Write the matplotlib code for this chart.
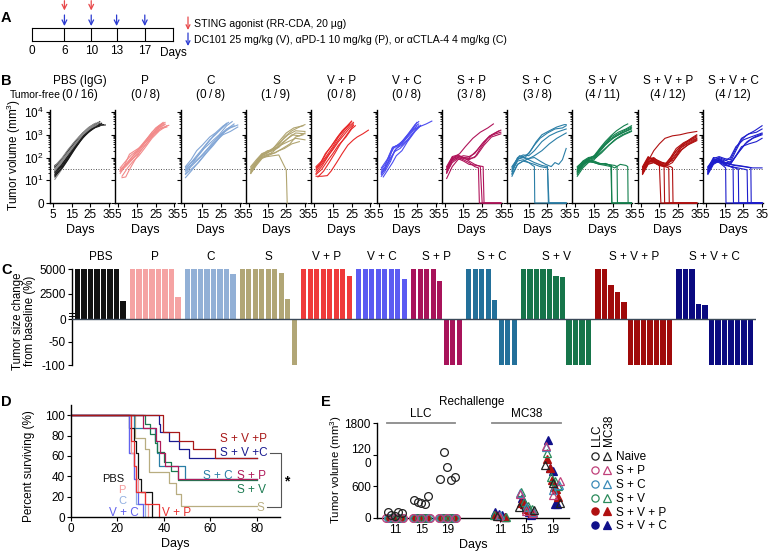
import numpy as np
import matplotlib
matplotlib.use('Agg')
import matplotlib.pyplot as plt
from matplotlib import font_manager as fm
from matplotlib.legend_handler import HandlerTuple
from matplotlib.lines import Line2D


def pick_font(names):
    # first installed family from the list
    for n in names:
        try:
            fm.findfont(fm.FontProperties(family=n), fallback_to_default=False)
            return n
        except ValueError:
            continue
    return 'DejaVu Sans'


BASE = pick_font(['Liberation Sans', 'Arial'])
NARROW = pick_font(['Liberation Sans Narrow', 'Arial Narrow', BASE])

plt.rcParams['font.family'] = [BASE, 'DejaVu Sans']
plt.rcParams['mathtext.fontset'] = 'custom'
plt.rcParams['mathtext.rm'] = BASE
plt.rcParams['font.size'] = 8.5
plt.rcParams['axes.linewidth'] = 1.0
plt.rcParams['xtick.major.size'] = 3
plt.rcParams['ytick.major.size'] = 3
plt.rcParams['xtick.major.pad'] = 1.5
plt.rcParams['ytick.major.pad'] = 1.5

# ---------------- data ----------------
# A: treatment schedule
timeline_days = [0, 6, 10, 13, 17]
sting_days = [6, 10]
dc101_days = [6, 10, 13, 17]

group_names = ['PBS (IgG)', 'P', 'C', 'S', 'V + P', 'V + C',
               'S + P', 'S + C', 'S + V', 'S + V + P', 'S + V + C']
tumor_free = ['(0\u2009/\u200916)', '(0\u2009/\u20098)', '(0\u2009/\u20098)', '(1\u2009/\u20099)',
              '(0\u2009/\u20098)', '(0\u2009/\u20098)', '(3\u2009/\u20098)', '(3\u2009/\u20098)',
              '(4\u2009/\u200911)', '(4\u2009/\u200912)', '(4\u2009/\u200912)']

# B: tumour growth curves, (day, volume mm3)
b_pbs = [
    [(6, 45), (10, 70), (13, 160), (17, 400), (20, 800), (24, 1600), (28, 2800), (30, 3800)],
    [(6, 35), (9, 60), (13, 180), (16, 380), (20, 900), (23, 1500), (27, 2600), (31, 3300)],
    [(6, 25), (10, 55), (14, 150), (17, 300), (21, 800), (24, 1400), (28, 2500), (32, 2800)],
    [(6, 11), (9, 25), (12, 60), (15, 150), (19, 450), (22, 900), (26, 1800), (29, 2500)],
    [(6, 14), (9, 30), (13, 90), (16, 220), (20, 600), (23, 1100), (27, 2200), (30, 3000)],
    [(6, 30), (10, 70), (14, 200), (18, 500), (22, 1200), (25, 2000), (29, 3500)],
    [(6, 40), (10, 90), (13, 200), (17, 500), (21, 1200), (25, 2200), (28, 3000)],
    [(6, 20), (9, 40), (13, 120), (17, 350), (20, 700), (24, 1500), (27, 2400), (31, 2600)],
    [(6, 38), (9, 70), (12, 150), (16, 420), (19, 800), (23, 1700), (26, 2600), (29, 3200)],
    [(6, 28), (9, 50), (12, 110), (15, 260), (19, 700), (22, 1300), (26, 2300), (30, 3600)],
    [(6, 18), (10, 45), (14, 130), (18, 420), (21, 850), (25, 1800), (28, 2600), (33, 2700)],
    [(6, 32), (9, 65), (13, 170), (16, 330), (20, 850), (24, 1900), (27, 3000)],
    [(6, 22), (9, 40), (12, 90), (16, 280), (19, 600), (23, 1300), (27, 2000), (30, 2400)],
    [(6, 42), (10, 100), (13, 220), (17, 550), (20, 1000), (24, 2100), (28, 3300)],
    [(6, 16), (10, 35), (13, 80), (17, 260), (21, 750), (24, 1300), (28, 2200), (31, 3100)],
    [(6, 26), (9, 55), (13, 140), (17, 380), (21, 1000), (25, 1900), (29, 2900)],
]
b_p = [
    [(6, 25), (8, 40), (11, 140), (13, 180), (16, 260), (20, 500), (24, 1200), (27, 2200), (30, 3000)],
    [(6, 30), (9, 50), (12, 100), (15, 180), (18, 350), (22, 800), (26, 2000), (29, 3200)],
    [(7, 13), (9, 14), (11, 30), (14, 80), (17, 200), (20, 400), (24, 1000), (28, 2000), (32, 2600)],
    [(6, 20), (9, 45), (12, 80), (15, 150), (19, 400), (22, 900), (26, 1800), (30, 2800)],
    [(6, 35), (9, 70), (12, 130), (15, 200), (18, 400), (22, 1000), (25, 2000), (29, 3500)],
    [(6, 25), (9, 40), (13, 90), (16, 160), (20, 400), (24, 1100), (27, 1800), (31, 2200)],
    [(6, 28), (10, 60), (13, 120), (17, 300), (20, 600), (23, 1300), (27, 2500), (30, 3500)],
    [(7, 15), (10, 35), (13, 70), (16, 120), (19, 250), (23, 700), (27, 1500), (31, 2500)],
]
b_c = [
    [(6, 13), (9, 25), (12, 50), (15, 100), (18, 200), (22, 500), (26, 1200), (30, 2000), (34, 2700)],
    [(6, 20), (9, 40), (12, 70), (16, 150), (20, 400), (24, 900), (28, 1800), (32, 2500)],
    [(6, 30), (9, 60), (13, 150), (16, 300), (19, 600), (22, 1000), (25, 1800), (28, 3000)],
    [(6, 40), (9, 80), (12, 200), (15, 350), (19, 800), (22, 1200), (26, 2400), (29, 3500)],
    [(6, 25), (9, 45), (12, 100), (16, 250), (20, 500), (24, 1000), (28, 2500), (31, 3800)],
    [(6, 35), (10, 70), (13, 130), (17, 350), (21, 900), (25, 1800), (28, 3200)],
    [(6, 18), (9, 30), (13, 60), (17, 150), (21, 350), (25, 900), (29, 2000), (32, 3000)],
    [(6, 28), (10, 55), (14, 110), (18, 250), (22, 500), (26, 1000), (30, 1400), (34, 2200)],
]
b_s = [
    [(6, 30), (8, 45), (11, 110), (14, 150), (17, 200), (20, 300), (24, 800), (28, 1500), (32, 2200), (35, 2800)],
    [(6, 25), (9, 60), (12, 120), (15, 160), (18, 250), (21, 500), (25, 1200), (29, 2000), (34, 2500)],
    [(6, 20), (9, 50), (12, 100), (15, 130), (18, 180), (22, 400), (26, 700), (30, 1200), (35, 1100)],
    [(6, 35), (9, 70), (12, 140), (15, 200), (18, 220), (22, 350), (26, 500), (30, 700), (35, 600)],
    [(6, 22), (9, 55), (12, 100), (15, 110), (18, 120), (21, 130), (25, 28), (25.5, 0)],
    [(6, 28), (9, 65), (12, 130), (15, 170), (18, 200), (21, 280), (25, 600), (28, 1000), (32, 900), (35, 1200)],
    [(6, 40), (9, 80), (12, 150), (15, 180), (18, 260), (22, 500), (26, 1000), (30, 1500), (35, 1400)],
    [(6, 30), (9, 55), (12, 110), (15, 140), (19, 160), (23, 250), (27, 400), (30, 800), (34, 1000)],
    [(6, 20), (9, 45), (12, 90), (15, 120), (18, 150), (21, 200), (24, 250), (28, 400), (32, 500)],
]
b_vp = [
    [(6, 15), (9, 15), (12, 16), (14, 25), (17, 60), (20, 150), (23, 350), (26, 600), (28, 800), (31, 1100), (34, 1600)],
    [(6, 35), (8, 50), (11, 150), (14, 300), (17, 700), (20, 1500), (23, 2500), (25, 4000)],
    [(6, 20), (9, 40), (12, 100), (15, 250), (18, 600), (21, 1300), (24, 2500), (26, 3500)],
    [(6, 25), (9, 50), (12, 110), (15, 220), (18, 500), (21, 1000), (24, 2000), (26, 3000)],
    [(6, 30), (9, 60), (12, 130), (15, 300), (18, 800), (21, 1600), (24, 3000)],
    [(6, 18), (9, 30), (12, 70), (15, 150), (18, 350), (22, 800), (25, 1800), (27, 2500)],
    [(7, 14), (10, 25), (13, 60), (16, 150), (19, 400), (22, 900), (25, 2000), (26, 2600)],
    [(6, 40), (9, 70), (12, 180), (15, 400), (18, 900), (21, 1800), (24, 3200), (25, 3800)],
]
b_vc = [
    [(6, 20), (8, 30), (10, 80), (12, 250), (14, 300), (17, 400), (20, 900), (23, 2000), (25, 3500)],
    [(6, 25), (8, 40), (10, 120), (12, 280), (15, 350), (18, 600), (21, 1300), (24, 2800), (26, 3800)],
    [(6, 15), (8, 25), (11, 70), (13, 200), (15, 300), (18, 500), (22, 1200), (25, 2500)],
    [(6, 30), (8, 50), (10, 100), (12, 280), (14, 320), (17, 500), (21, 1100), (24, 2400), (26, 3000)],
    [(6, 35), (9, 80), (11, 150), (13, 300), (16, 400), (19, 800), (22, 1500), (26, 2200), (30, 3000), (33, 4000)],
    [(6, 18), (9, 45), (12, 120), (14, 250), (17, 350), (20, 600), (24, 1500), (27, 2600)],
    [(6, 22), (8, 35), (11, 100), (13, 180), (16, 250), (19, 450), (23, 1200), (26, 2500)],
    [(7, 14), (9, 25), (12, 60), (14, 120), (17, 200), (20, 500), (24, 1400), (27, 2500)],
]
b_sp = [
    [(6, 30), (8, 60), (10, 100), (13, 150), (16, 300), (20, 700), (24, 1300), (28, 2000), (31, 3000)],
    [(6, 25), (9, 90), (12, 110), (15, 100), (18, 90), (21, 100), (24, 250), (28, 700), (32, 1200), (35, 1600)],
    [(6, 20), (9, 70), (12, 100), (15, 120), (18, 110), (21, 150), (25, 400), (29, 900), (35, 1300)],
    [(6, 35), (9, 100), (12, 120), (15, 90), (18, 80), (22, 120), (26, 350), (30, 800), (35, 1100)],
    [(6, 12), (9, 40), (12, 80), (15, 100), (18, 95), (22, 200), (26, 500), (30, 1000), (34, 1500)],
    [(6, 30), (9, 80), (12, 100), (15, 80), (18, 60), (21, 40), (23, 35), (23.5, 0), (35, 0)],
    [(6, 40), (9, 110), (12, 130), (15, 100), (18, 70), (21, 50), (24, 40), (25, 0), (35, 0)],
    [(6, 22), (9, 60), (12, 90), (15, 70), (18, 50), (22, 45), (25.5, 40), (26, 0), (35, 0)],
]
b_sc = [
    [(6, 20), (8, 60), (10, 120), (13, 100), (16, 200), (19, 500), (22, 1000), (26, 1500), (30, 2200), (34, 2800), (35, 2800)],
    [(6, 25), (9, 80), (12, 110), (15, 150), (18, 350), (21, 700), (25, 1200), (29, 1800), (33, 2000), (35, 2500)],
    [(6, 30), (9, 100), (12, 130), (15, 120), (18, 200), (22, 500), (26, 900), (30, 1300), (35, 1800)],
    [(6, 15), (9, 50), (12, 70), (15, 90), (18, 100), (21, 70), (24, 50), (27, 40), (29, 60), (31, 50), (33, 80), (35, 250)],
    [(6, 35), (9, 90), (12, 100), (15, 90), (18, 120), (22, 200), (26, 400), (30, 700), (35, 1200)],
    [(6, 25), (9, 70), (12, 80), (15, 60), (17, 45), (18, 40), (18.2, 0), (35, 0)],
    [(6, 18), (9, 50), (12, 70), (15, 60), (18, 50), (21, 40), (25, 35), (25.5, 0), (35, 0)],
    [(6, 40), (9, 90), (12, 100), (15, 80), (18, 60), (22, 45), (25, 40), (25.8, 0), (35, 0)],
]
b_sv = [
    [(6, 30), (9, 60), (12, 90), (15, 120), (18, 250), (21, 500), (24, 900), (27, 1500), (31, 2500), (33, 3000)],
    [(6, 25), (9, 50), (12, 80), (15, 100), (18, 200), (21, 400), (24, 800), (28, 1300), (32, 1800), (35, 2500)],
    [(6, 20), (9, 40), (12, 70), (15, 90), (18, 180), (21, 350), (25, 700), (29, 1100), (33, 1600), (35, 2000)],
    [(6, 35), (9, 70), (12, 100), (15, 110), (18, 220), (22, 450), (26, 800), (30, 1200), (35, 1800)],
    [(6, 15), (9, 35), (12, 60), (15, 80), (18, 150), (22, 300), (26, 600), (30, 1000), (35, 1500)],
    [(6, 28), (9, 55), (12, 85), (16, 130), (19, 300), (23, 600), (27, 1000), (31, 1500), (35, 2200)],
    [(6, 40), (9, 65), (12, 90), (16, 100), (19, 160), (23, 350), (27, 650), (31, 1000), (35, 1400)],
    [(6, 22), (9, 50), (12, 70), (15, 60), (18, 50), (21, 45), (24, 40), (24.5, 0), (35, 0)],
    [(6, 30), (9, 60), (12, 80), (15, 70), (18, 55), (22, 50), (26, 45), (27.3, 40), (27.5, 0), (35, 0)],
    [(6, 18), (9, 45), (12, 75), (15, 65), (18, 55), (22, 50), (26, 35), (29, 50), (32, 45), (33, 40), (33.2, 0), (35, 0)],
    [(6, 25), (9, 55), (12, 65), (15, 60), (18, 50), (21, 55), (23, 48), (24.3, 45), (24.5, 0), (35, 0)],
]
b_svp = [
    [(6, 30), (8, 60), (10, 100), (12, 200), (15, 400), (18, 700), (22, 900), (26, 1000), (30, 1200), (35, 1400)],
    [(6, 25), (9, 80), (12, 100), (15, 60), (18, 40), (21, 80), (24, 200), (28, 400), (32, 700), (35, 1000)],
    [(6, 35), (9, 100), (12, 90), (15, 70), (18, 50), (21, 100), (24, 250), (28, 450), (32, 650), (35, 900)],
    [(6, 20), (9, 60), (12, 80), (15, 55), (18, 45), (22, 120), (26, 300), (30, 500), (35, 800)],
    [(6, 40), (9, 110), (12, 70), (15, 50), (18, 40), (22, 90), (26, 250), (30, 400), (35, 650)],
    [(6, 18), (9, 50), (12, 60), (15, 45), (18, 40), (22, 60), (26, 200), (30, 350), (35, 550)],
    [(6, 30), (9, 70), (12, 75), (15, 60), (19, 50), (23, 100), (27, 300), (31, 500), (35, 700)],
    [(6, 22), (9, 65), (12, 90), (15, 65), (19, 55), (23, 80), (27, 220), (31, 400), (35, 600)],
    [(6, 28), (9, 70), (12, 65), (15, 45), (15.8, 0), (35, 0)],
    [(6, 35), (9, 90), (12, 80), (15, 50), (17.5, 40), (17.8, 0), (35, 0)],
    [(6, 20), (9, 55), (12, 60), (15, 45), (18, 40), (20, 35), (20.3, 0), (35, 0)],
    [(6, 25), (9, 60), (12, 70), (15, 50), (18, 45), (21, 40), (22, 35), (22.3, 0), (35, 0)],
]
b_svc = [
    [(6, 30), (9, 70), (12, 100), (15, 80), (18, 60), (21, 200), (24, 600), (27, 1000), (31, 1500), (35, 2500)],
    [(6, 25), (9, 90), (12, 110), (15, 90), (18, 80), (21, 250), (24, 700), (28, 1100), (32, 1300), (35, 1800)],
    [(6, 35), (9, 100), (12, 90), (15, 70), (18, 100), (21, 300), (25, 600), (29, 800), (35, 1200)],
    [(6, 20), (9, 60), (12, 80), (15, 60), (18, 50), (22, 150), (26, 400), (30, 700), (35, 1000)],
    [(6, 40), (9, 80), (12, 70), (15, 55), (19, 70), (23, 200), (27, 500), (31, 800), (35, 1100)],
    [(6, 18), (9, 50), (12, 70), (15, 60), (18, 50), (21, 120), (24, 300), (28, 400), (32, 500), (35, 700)],
    [(6, 28), (9, 70), (12, 80), (15, 60), (18, 50), (22, 45), (26, 40), (30, 35), (35, 35)],
    [(6, 22), (9, 65), (12, 75), (15, 55), (18, 40), (22, 35), (26, 30), (27, 28), (27.3, 0), (35, 0)],
    [(6, 30), (9, 75), (12, 60), (14, 45), (15.5, 35), (15.7, 0), (35, 0)],
    [(6, 25), (9, 55), (12, 70), (15, 50), (18, 40), (19.5, 35), (19.7, 0), (35, 0)],
    [(6, 20), (9, 60), (12, 65), (15, 45), (19, 40), (22.3, 30), (22.5, 0), (35, 0)],
    [(6, 35), (9, 80), (12, 85), (15, 60), (20, 45), (25, 40), (29, 35), (29.2, 0), (35, 0)],
]
b_curves = [b_pbs, b_p, b_c, b_s, b_vp, b_vc, b_sp, b_sc, b_sv, b_svp, b_svc]
b_threshold = 30

# C: waterfall, % change from baseline (capped at 5000 / -100)
c_labels = ['PBS', 'P', 'C', 'S', 'V + P', 'V + C', 'S + P', 'S + C', 'S + V', 'S + V + P', 'S + V + C']
c_pbs = [5000, 5000, 5000, 5000, 5000, 5000, 5000, 1800]
c_p = [5000, 5000, 5000, 5000, 5000, 5000, 5000, 2200]
c_c = [5000, 5000, 5000, 5000, 5000, 5000, 5000, 4500]
c_s = [5000, 5000, 5000, 5000, 5000, 5000, 4600, 2000, -100]
c_vp = [5000, 5000, 5000, 5000, 5000, 5000, 5000, 4300]
c_vc = [5000, 5000, 5000, 5000, 5000, 5000, 5000, 4000]
c_sp = [5000, 5000, 5000, 5000, 3800, -100, -100, -100]
c_sc = [5000, 5000, 5000, 5000, 1900, -100, -100, -100]
c_sv = [5000, 5000, 5000, 5000, 5000, 4300, 4200, -100, -100, -100, -100]
c_svp = [5000, 5000, 3400, 2700, 1700, -100, -100, -100, -100, -100, -100, -100]
c_svc = [5000, 5000, 5000, 1500, 1400, -100, -100, -100, -100, -100, -100, -100]
c_values = [c_pbs, c_p, c_c, c_s, c_vp, c_vc, c_sp, c_sc, c_sv, c_svp, c_svc]

# D: Kaplan-Meier steps (day, % surviving)
d_pbs = ([0, 25, 27, 28, 29, 30, 35], [100, 87.5, 75, 62.5, 37.5, 25, 0])
d_p = ([0, 26, 27, 28, 29, 32, 33], [100, 62.5, 50, 37.5, 25, 12.5, 0])
d_c = ([0, 25, 27, 28, 32], [100, 62.5, 37.5, 12.5, 0])
d_vc = ([0, 25, 27, 28, 29, 31], [100, 62.5, 37.5, 25, 12.5, 0])
d_vp = ([0, 26, 27, 28, 32, 38], [100, 75, 50, 25, 12.5, 0])
d_s = ([0, 27.5, 32, 33.5, 42, 45, 47.5, 80], [100, 77.8, 66.7, 44.4, 33.3, 22.2, 11.1, 11.1])
d_sp = ([0, 31, 36.5, 38.5, 40.5, 46, 80], [100, 87.5, 75, 62.5, 50, 37.5, 37.5])
d_sc = ([0, 27, 36, 37, 38, 49, 80], [100, 87.5, 75, 62.5, 50, 37.5, 37.5])
d_sv = ([0, 32, 34, 36, 37, 40, 43, 46, 80], [100, 90.9, 81.8, 72.7, 63.6, 54.5, 45.5, 36.4, 36.4])
d_svp = ([0, 39.5, 46.5, 52.5, 62, 80], [100, 83.3, 75, 66.7, 58.3, 58.3])
d_svc = ([0, 38, 38.5, 42, 46.5, 51, 80], [100, 91.7, 83.3, 75, 66.7, 58.3, 58.3])

# E: rechallenge tumour volumes at days 11, 15, 19
e_days = ['11', '15', '19']
e_groups = ['Naive', 'S + P', 'S + C', 'S + V', 'S + V + P', 'S + V + C']
llc_naive = [[110, 60, 30, 110, 100], [340, 310, 280, 260, 420], [740, 1260, 970, 720, 770]]
llc_sp = [[0, 0, 0], [0, 0, 0], [0, 0, 0]]
llc_sc = [[0, 0, 0], [0, 0, 0], [0, 0, 0]]
llc_sv = [[0, 0, 0, 0], [0, 0, 0, 0], [0, 0, 0, 0]]
llc_svp = [[0, 0, 0, 0], [0, 0, 0, 0], [0, 0, 0, 0]]
llc_svc = [[0, 0, 0, 0], [0, 0, 0, 0], [0, 0, 0, 0]]
mc38_naive = [[40], [200, 150], [1000, 660, 280]]
mc38_sp = [[30], [460, 140, 90], [1360, 430, 700]]
mc38_sc = [[50], [470, 200, 120], [1345, 530, 620]]
mc38_sv = [[60, 20], [490, 310, 220, 170], [1230, 780, 700, 600]]
mc38_svp = [[60, 30, 20], [290, 270, 180, 150, 100], [1120, 950, 720, 580, 550, 400]]
mc38_svc = [[110, 80, 50, 20], [380, 260, 230, 120, 60], [1480, 950, 890, 270, 270]]
llc_sets = [llc_naive, llc_sp, llc_sc, llc_sv, llc_svp, llc_svc]
mc38_sets = [mc38_naive, mc38_sp, mc38_sc, mc38_sv, mc38_svp, mc38_svc]

# ---------------- styles ----------------
b_colors = ['#1a1a1a', '#f28a8a', '#82a6d6', '#b0a470', '#e82828', '#4c4cf0',
            '#b0145a', '#2a7ea6', '#14804e', '#b01010', '#1e1ecc']
c_colors = ['#111111', '#f5a3a3', '#92b0d6', '#b1a676', '#ef3a3a', '#5b5bf2',
            '#a8135a', '#23709a', '#16754a', '#a00a0a', '#0a0a80']
d_colors = {'PBS': '#111111', 'P': '#f49a9a', 'C': '#90aee0', 'S': '#b8ad80',
            'V + P': '#e83030', 'V + C': '#6262ee', 'S + P': '#b01a5a', 'S + C': '#2a7ea6',
            'S + V': '#1a7a50', 'S + V + P': '#a81818', 'S + V + C': '#1a1a90'}
e_colors = ['#222222', '#c0407a', '#3a8ab8', '#2a8a5a', '#b01010', '#10108a']
e_filled = [False, False, False, False, True, True]
e_zorder = [4.0, 3.9, 3.8, 3.7, 3.2, 3.1]   # open markers above filled ones
RED_ARROW = '#e8484a'
BLUE_ARROW = '#2a3ad0'

W, H = 768, 557
fig = plt.figure(figsize=(W / 100, H / 100), dpi=100)


def rect(x0, y0, x1, y1):
    return [x0 / W, 1 - y1 / H, (x1 - x0) / W, (y1 - y0) / H]


def ftext(x, y, s, **kw):
    return fig.text(x / W, 1 - y / H, s, **kw)


def panel_letter(x, y, s):
    ftext(x, y, s, fontsize=10.5, fontweight='bold', ha='left', va='center')


# ---------------- A ----------------
panel_letter(1, 18, 'A')
slots = [0, 1.15, 2.1, 3.0, 4.0]
slot_of = dict(zip(timeline_days, slots))
axA = fig.add_axes(rect(32, 28, 173, 41))
axA.set_xlim(0, 5)
axA.set_ylim(0, 1)
axA.set_xticks([])
axA.set_yticks([])
for sp in axA.spines.values():
    sp.set_linewidth(0.8)
for d in timeline_days[1:]:
    axA.plot([slot_of[d], slot_of[d]], [0, 1], color='black', lw=0.8)
for d in timeline_days:
    axA.text(slot_of[d], -0.3, str(d), ha='center', va='top', fontsize=8.5)
axA.text(5, -0.45, 'Days', ha='center', va='top', fontsize=8.5)
for d in sting_days:
    axA.annotate('', xy=(slot_of[d], 2.35), xytext=(slot_of[d], 3.1),
                 arrowprops=dict(arrowstyle='->', color=RED_ARROW, lw=0.9,
                                 shrinkA=0, shrinkB=0), annotation_clip=False)
for d in dc101_days:
    axA.annotate('', xy=(slot_of[d], 1.15), xytext=(slot_of[d], 2.0),
                 arrowprops=dict(arrowstyle='->', color=BLUE_ARROW, lw=0.9,
                                 shrinkA=0, shrinkB=0), annotation_clip=False)
fig.add_artist(matplotlib.patches.FancyArrowPatch((188 / W, 1 - 17 / H), (188 / W, 1 - 30 / H),
               arrowstyle='->', color=RED_ARROW, lw=0.9, mutation_scale=7,
               transform=fig.transFigure, shrinkA=0, shrinkB=0))
fig.add_artist(matplotlib.patches.FancyArrowPatch((188 / W, 1 - 33 / H), (188 / W, 1 - 46 / H),
               arrowstyle='->', color=BLUE_ARROW, lw=0.9, mutation_scale=7,
               transform=fig.transFigure, shrinkA=0, shrinkB=0))
ftext(194, 24, 'STING agonist (RR-CDA, 20 \u00b5g)', va='center', fontsize=7.6, family=[NARROW, 'DejaVu Sans'])
ftext(194, 40, 'DC101 25 mg/kg (V), \u03b1PD-1 10 mg/kg (P), or \u03b1CTLA-4 4 mg/kg (C)',
      va='center', fontsize=7.6, family=[NARROW, 'DejaVu Sans'])


# ---------------- B ----------------
def b_fwd(v):
    v = np.asarray(v, float)
    return np.where(v >= 10, np.log10(np.clip(v, 10, None)), v / 10)


def b_inv(p):
    p = np.asarray(p, float)
    return np.where(p >= 1, 10 ** np.clip(p, 1, 12), p * 10)


panel_letter(1, 81, 'B')
ftext(10, 95, 'Tumor-free', ha='left', va='center', fontsize=7.5, family=[NARROW, 'DejaVu Sans'])
minor_vals = [m * 10 ** e for e in (1, 2, 3) for m in range(2, 10)]
for i, curves in enumerate(b_curves):
    left = 50 + i * 65.3
    ax = fig.add_axes(rect(left, 110, left + 60, 203))
    ax.set_yscale('function', functions=(b_fwd, b_inv))
    ax.set_xlim(3.4, 35.5)
    ax.set_ylim(0, 10 ** 4.09)
    for j, crv in enumerate(curves):
        days, vols = zip(*crv)
        col = b_colors[i]
        if i == 0 and j % 2 == 1:
            col = '#8c8c8c'
        ax.plot(days, vols, color=col, lw=0.8, clip_on=False, zorder=3)
    ax.axhline(b_threshold, color='#555555', lw=0.7, ls=(0, (1, 1.6)), zorder=2)
    ax.spines['top'].set_visible(False)
    ax.spines['right'].set_visible(False)
    ax.set_xticks([5, 15, 25, 35])
    ax.tick_params(axis='x', labelsize=8.5)
    ax.set_yticks([0, 10, 100, 1000, 10000])
    ax.set_yticks(minor_vals, minor=True)
    ax.tick_params(axis='y', which='minor', length=1.6, width=0.6)
    if i == 0:
        ax.set_yticklabels(['0', r'$10^1$', r'$10^2$', r'$10^3$', r'$10^4$'], fontsize=8.5)
    else:
        ax.set_yticklabels([])
    ax.set_xlabel('Days', fontsize=9, labelpad=2)
    ftext(left + 30, 81, group_names[i], ha='center', va='center', fontsize=8.5)
    ftext(left + 30, 95, tumor_free[i], ha='center', va='center', fontsize=8.5)
ftext(14, 155, 'Tumor volume (mm$^3$)', rotation=90, ha='center', va='center', fontsize=8.5)

# ---------------- C ----------------
C_K = (100 * 50 / 46) / 5000


def c_fwd(v):
    v = np.asarray(v, float)
    return np.where(v > 0, v * C_K, v)


def c_inv(p):
    p = np.asarray(p, float)
    return np.where(p > 0, p / C_K, p)


panel_letter(1, 270, 'C')
axC = fig.add_axes(rect(72, 269, 756, 365))
axC.set_yscale('function', functions=(c_fwd, c_inv))
pos = 0.0
group_gap = 0.45
for i, vals in enumerate(c_values):
    xs = pos + np.arange(len(vals))
    axC.bar(xs, vals, width=0.8, color=c_colors[i], edgecolor='none', zorder=2)
    axC.text(xs.mean(), 1.065, c_labels[i], transform=axC.get_xaxis_transform(),
             ha='center', va='bottom', fontsize=8.5)
    pos = xs[-1] + 1 + group_gap
last = pos - 1 - group_gap
axC.set_xlim(-0.86, last + 0.86)
axC.set_ylim(-100, 5000)
axC.axhline(0, color='#3a4858', lw=1.0, zorder=3)
for s in ('top', 'right', 'bottom'):
    axC.spines[s].set_visible(False)
axC.set_xticks([])
axC.set_yticks([-100, -50, 0, 2500, 5000])
axC.set_yticklabels(['-100', '-50', '0', '2500', '5000'], fontsize=8.5)
for yb in (300, 560):
    axC.plot([-1.25, -0.5], [yb, yb], color='black', lw=0.7, clip_on=False, zorder=4)
ftext(18, 321, 'Tumor size change', rotation=90, ha='center', va='center', fontsize=8.3)
ftext(30, 321, 'from baseline (%)', rotation=90, ha='center', va='center', fontsize=8.3)

# ---------------- D ----------------
panel_letter(1, 402, 'D')
axD = fig.add_axes(rect(71, 405, 280, 517))
d_order = [('S', d_s), ('S + C', d_sc), ('S + V', d_sv), ('S + P', d_sp),
           ('PBS', d_pbs), ('C', d_c), ('V + C', d_vc), ('P', d_p), ('V + P', d_vp),
           ('S + V + C', d_svc), ('S + V + P', d_svp)]
for name, (t, s) in d_order:
    axD.plot(t, s, drawstyle='steps-post', color=d_colors[name], lw=0.9, clip_on=False)
axD.set_xlim(0, 90)
axD.set_ylim(0, 110)
axD.set_xticks([0, 20, 40, 60, 80])
axD.set_yticks([0, 20, 40, 60, 80, 100])
axD.tick_params(labelsize=8.5)
axD.spines['top'].set_visible(False)
axD.spines['right'].set_visible(False)
axD.set_xlabel('Days', fontsize=9, labelpad=2)
ftext(29, 466, 'Percent surviving (%)', rotation=90, ha='center', va='center', fontsize=8.5)
d_text = [('S + V + P', 'S + V +P', 64, 77), ('S + V + C', 'S + V +C', 64, 63),
          ('S + C', 'S + C', 57, 40), ('S + P', 'S + P', 71.5, 40), ('S + V', 'S + V', 71.5, 27),
          ('S', 'S', 80, 9), ('PBS', 'PBS', 13.5, 37), ('P', 'P', 20.3, 26.5), ('C', 'C', 20.3, 15.5),
          ('V + C', 'V + C', 16.5, 4), ('V + P', 'V + P', 39, 4)]
for name, label, x, y in d_text:
    size = 8 if name in ('PBS', 'P', 'C') else 8.5
    axD.text(x, y, label, color=d_colors[name], ha='left', va='center', fontsize=size)
axD.plot([85.5, 90.5, 90.5, 84.5], [63, 63, 10, 10], color='#555555', lw=0.8, clip_on=False)
axD.text(93, 35, '*', ha='center', va='center', fontsize=10, fontweight='bold')

# ---------------- E ----------------
panel_letter(321, 402, 'E')
axE = fig.add_axes(rect(377, 423, 569, 518))
llc_x = [0, 1, 2]
mc38_x = [4, 5, 6]
for g in range(len(e_groups)):
    mk_kw = dict(ls='none', ms=5.6, mew=0.9, mec=e_colors[g], clip_on=False,
                 mfc=e_colors[g] if e_filled[g] else 'none', zorder=e_zorder[g])
    for k in range(3):
        vals = llc_sets[g][k]
        w = 0.27 if g == 0 else 0.36 - 0.04 * g
        off = np.linspace(-w, w, len(vals)) if len(vals) > 1 else np.zeros(1)
        axE.plot(llc_x[k] + off, vals, marker='o', **mk_kw)
        vals = mc38_sets[g][k]
        w = 0.28 - 0.02 * g
        off = np.linspace(-w, w, len(vals)) if len(vals) > 1 else np.zeros(1) + 0.1 * (g - 2.5) / 2.5
        axE.plot(mc38_x[k] + off, vals, marker='^', **mk_kw)
axE.set_xlim(-0.68, 6.62)
axE.set_ylim(0, 1800)
axE.set_xticks(llc_x + mc38_x)
axE.set_xticklabels(e_days + e_days, fontsize=8.5)
axE.set_yticks([0, 600, 1200, 1800])
axE.set_yticklabels(['0', '600', '120\n0', '1800'], fontsize=8.5)
axE.spines['top'].set_visible(False)
axE.spines['right'].set_visible(False)
axE.set_xlabel('Days', fontsize=9, labelpad=2)
ftext(336, 470, 'Tumor volume (mm$^3$)', rotation=90, ha='center', va='center', fontsize=8.2)
axE.plot([-0.3, 2.3], [1800, 1800], color='#8a8a8a', lw=1.3, clip_on=False)
axE.plot([3.7, 6.3], [1800, 1800], color='#8a8a8a', lw=1.3, clip_on=False)
axE.text(1.0, 1850, 'LLC', ha='center', va='bottom', fontsize=8.5)
axE.text(5.0, 1850, 'MC38', ha='center', va='bottom', fontsize=8.5)
ftext(472, 402, 'Rechallenge', ha='center', va='center', fontsize=8.5)

handles = []
for g in range(len(e_groups)):
    fc = e_colors[g] if e_filled[g] else 'none'
    hc = Line2D([], [], ls='none', marker='o', ms=5.2, mew=0.9, mec=e_colors[g], mfc=fc)
    ht = Line2D([], [], ls='none', marker='^', ms=5.2, mew=0.9, mec=e_colors[g], mfc=fc)
    handles.append((hc, ht))
fig.legend(handles, e_groups, handler_map={tuple: HandlerTuple(ndivide=None, pad=0.35)},
           loc='upper left', bbox_to_anchor=(591 / W, 1 - 451 / H), frameon=False,
           borderpad=0, borderaxespad=0, handlelength=1.7, handletextpad=0.45,
           labelspacing=0.16, fontsize=8.5)
ftext(597, 446, 'LLC', rotation=90, ha='center', va='bottom', fontsize=8.5)
ftext(609, 446, 'MC38', rotation=90, ha='center', va='bottom', fontsize=8.5)

fig.savefig('out.png', dpi=100)
